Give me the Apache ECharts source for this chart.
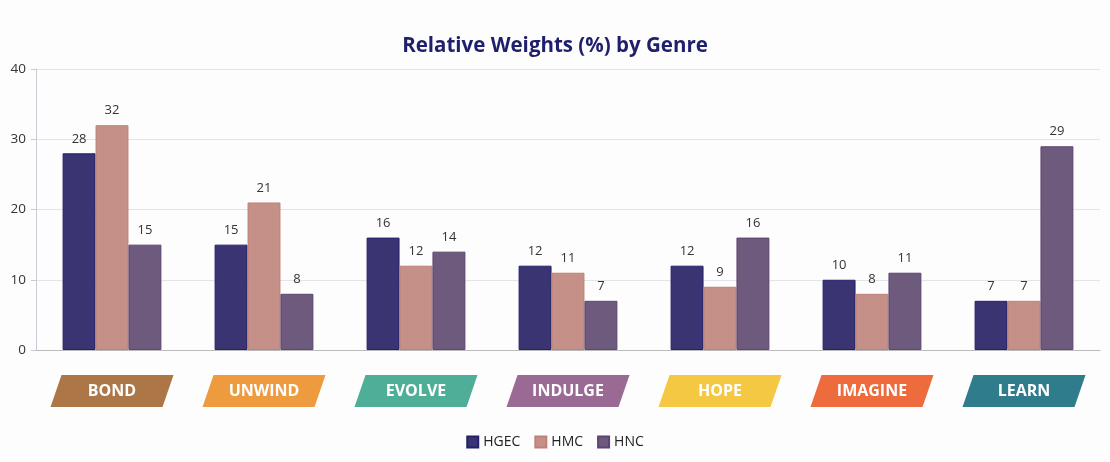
<!DOCTYPE html>
<html>
<head>
<meta charset="utf-8">
<style>
  html, body { margin: 0; padding: 0; background: #fdfdfd; }
  #chart { width: 1110px; height: 462px; }
</style>
<script src="https://cdn.jsdelivr.net/npm/echarts@6/dist/echarts.min.js"></script>
</head>
<body>
<div id="chart"></div>
<script>
const categories = ['BOND', 'UNWIND', 'EVOLVE', 'INDULGE', 'HOPE', 'IMAGINE', 'LEARN'];
const hgec = [28, 15, 16, 12, 12, 10, 7];
const hmc  = [32, 21, 12, 11, 9, 8, 7];
const hnc  = [15, 8, 14, 7, 16, 11, 29];
const yTicks = [0, 10, 20, 30, 40];

const genreColors = ['#ad7646', '#ee9b40', '#4fae97', '#9a6a94', '#f5c843', '#ee6b3e', '#2f7c8c'];
const seriesColors = { HGEC: '#3a3472', HMC: '#c49088', HNC: '#6e5a7d' };
const seriesBorders = { HGEC: '#24206e', HMC: '#c08078', HNC: '#5a4670' };
const FONT = '"Open Sans", "Noto Sans", sans-serif';

const chart = echarts.init(document.getElementById('chart'));

function barSeries(name, data) {
  return {
    name: name,
    type: 'bar',
    data: data,
    barGap: '0%',
    barCategoryGap: '35%',
    itemStyle: { color: seriesColors[name], borderColor: seriesBorders[name], borderWidth: 1 },
    label: { show: true, position: 'top', distance: 8, color: '#333', fontSize: 13, fontFamily: FONT },
    emphasis: { disabled: true }
  };
}

chart.setOption({
  backgroundColor: '#fdfdfd',
  animation: false,
  title: {
    text: 'Relative Weights (%) by Genre',
    left: 'center',
    top: 31,
    textStyle: { color: '#1f1f6e', fontSize: 20.5, fontWeight: 'bold', fontFamily: FONT }
  },
  legend: {
    data: ['HGEC', 'HMC', 'HNC'],
    bottom: 8,
    left: 'center',
    icon: 'rect',
    itemWidth: 11,
    itemHeight: 11,
    itemGap: 14,
    textStyle: { color: '#222', fontSize: 14, fontFamily: FONT }
  },
  grid: { left: 36, right: 10, top: 69, bottom: 112, containLabel: false },
  xAxis: {
    type: 'category',
    data: categories,
    axisLine: { lineStyle: { color: '#bbb' } },
    axisTick: { show: false },
    axisLabel: { show: false }
  },
  yAxis: {
    type: 'value',
    min: yTicks[0],
    max: yTicks[yTicks.length - 1],
    interval: 10,
    axisLine: { show: true, lineStyle: { color: '#c8ccd4' } },
    axisTick: { show: true, length: 5, lineStyle: { color: '#c8ccd4' } },
    axisLabel: { color: '#333', fontSize: 13.5, fontFamily: FONT, margin: 10, align: 'right' },
    splitLine: { lineStyle: { color: '#e2e4ea' } }
  },
  series: [
    barSeries('HGEC', hgec),
    barSeries('HMC', hmc),
    barSeries('HNC', hnc),
    {
      name: 'genres',
      type: 'custom',
      clip: false,
      silent: true,
      data: categories.map((c, i) => [i]),
      encode: { x: 0 },
      renderItem: function (params, api) {
        const i = api.value(0);
        const p = api.coord([i, 0]);
        const cx = p[0], cy = p[1] + 41;
        const hw = 56, hh = 16, sk = 5.5;
        return {
          type: 'group',
          children: [
            {
              type: 'polygon',
              shape: { points: [[cx - hw + sk, cy - hh], [cx + hw + sk, cy - hh], [cx + hw - sk, cy + hh], [cx - hw - sk, cy + hh]] },
              style: { fill: genreColors[i] }
            },
            {
              type: 'text',
              x: cx, y: cy,
              style: {
                text: categories[i],
                fill: '#fff',
                font: 'bold 16px ' + FONT,
                align: 'center',
                verticalAlign: 'middle'
              }
            }
          ]
        };
      }
    }
  ]
});
</script>
</body>
</html>
